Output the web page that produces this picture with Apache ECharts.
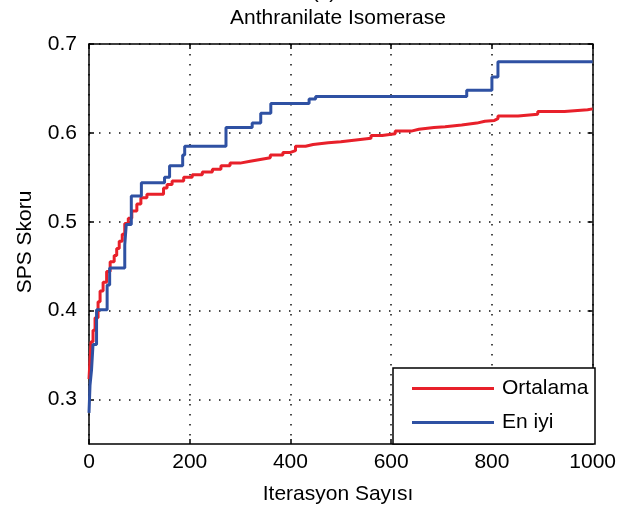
<!DOCTYPE html>
<html>
<head>
<meta charset="utf-8">
<title>Anthranilate Isomerase</title>
<script src="https://cdn.jsdelivr.net/npm/echarts@6/dist/echarts.min.js"></script>
<style>
  html, body { margin: 0; padding: 0; background: #fff; }
  #chart { width: 619px; height: 513px; }
</style>
</head>
<body>
<div id="chart"></div>
<script>
// Mean score per iteration (value holds until the next listed iteration)
const avgIter = [0, 2, 4, 8, 12, 18, 22, 28, 35, 42, 50, 55, 60, 66, 71, 78, 85, 95, 103, 115,
  148, 155, 165, 188, 205, 225, 245, 262, 280, 300, 320, 340, 360, 385, 400, 410, 430, 445,
  475, 500, 530, 560, 582, 608, 640, 655, 685, 707, 740, 770, 786, 805, 812, 852, 891, 944, 990, 1000];
const avgScore = [0.323, 0.345, 0.365, 0.378, 0.392, 0.410, 0.422, 0.432, 0.444, 0.455, 0.462, 0.470, 0.478, 0.486, 0.498, 0.504, 0.512, 0.520, 0.527, 0.531,
  0.538, 0.542, 0.546, 0.550, 0.553, 0.556, 0.559, 0.563, 0.566, 0.568, 0.570, 0.572, 0.575, 0.578, 0.580, 0.585, 0.587, 0.589,
  0.590, 0.592, 0.594, 0.597, 0.599, 0.602, 0.604, 0.606, 0.607, 0.609, 0.611, 0.613, 0.614, 0.616, 0.619, 0.621, 0.624, 0.626, 0.627, 0.627];

// Best score per iteration
const bestIter = [0, 2, 5, 8, 15, 36, 41, 71, 74, 84, 104, 150, 160, 186, 190, 272, 324, 341, 361, 437, 450, 750, 800, 812, 1000];
const bestScore = [0.285, 0.316, 0.333, 0.362, 0.401, 0.429, 0.448, 0.474, 0.497, 0.529, 0.544, 0.550, 0.563, 0.575, 0.585, 0.606, 0.611, 0.622, 0.633, 0.638, 0.641, 0.648, 0.663, 0.680, 0.680];

const xTicks = [0, 200, 400, 600, 800, 1000];
const yTicks = [0.3, 0.4, 0.5, 0.6, 0.7];

const seriesNames = ['Ortalama', 'En iyi'];
const titleText = 'Anthranilate Isomerase';
const xName = 'Iterasyon Sayısı';
const yName = 'SPS Skoru';

const FONT = '"Liberation Sans", Arial, Helvetica, sans-serif';
const FS = 21;
const RED = '#e8202a';
const BLUE = '#2f51a3';

const pairs = (xs, ys) => xs.map((x, i) => [x, ys[i]]);

const dotted = { color: '#111', width: 1.5, type: [1.5, 8.5] };

const chart = echarts.init(document.getElementById('chart'), null, { renderer: 'canvas' });

const baseX = {
  type: 'value', min: xTicks[0], max: xTicks[xTicks.length - 1], interval: 200
};
const baseY = {
  type: 'value', min: 0.25, max: 0.7, scale: true
};

chart.setOption({
  animation: false,
  backgroundColor: '#fff',
  grid: { left: 89, right: 24, top: 44, bottom: 69, containLabel: false },
  xAxis: [
    Object.assign({}, baseX, {
      position: 'bottom',
      axisLine: { show: true, onZero: false, lineStyle: { color: '#000', width: 1.5 } },
      axisTick: { show: true, inside: true, length: 5, lineStyle: { color: '#000', width: 1.5 } },
      axisLabel: { show: true, margin: 8, color: '#000', fontSize: FS, fontFamily: FONT,
        formatter: v => String(v) },
      splitLine: { show: true, lineStyle: dotted }
    }),
    Object.assign({}, baseX, {
      position: 'top',
      axisLine: { show: true, onZero: false, lineStyle: { color: '#000', width: 1.5 } },
      axisTick: { show: true, inside: true, length: 5, lineStyle: { color: '#000', width: 1.5 } },
      axisLabel: { show: false },
      splitLine: { show: false }
    })
  ],
  yAxis: [
    Object.assign({}, baseY, {
      position: 'left',
      axisLine: { show: true, onZero: false, lineStyle: { color: '#000', width: 1.5 } },
      axisTick: { show: true, inside: true, length: 5, customValues: yTicks, lineStyle: { color: '#000', width: 1.5 } },
      axisLabel: { show: true, margin: 12, customValues: yTicks, color: '#000', fontSize: FS, fontFamily: FONT,
        formatter: v => v.toFixed(1) },
      splitLine: { show: true, lineStyle: dotted }
    }),
    Object.assign({}, baseY, {
      position: 'right',
      axisLine: { show: true, onZero: false, lineStyle: { color: '#000', width: 1.5 } },
      axisTick: { show: true, inside: true, length: 5, customValues: yTicks, lineStyle: { color: '#000', width: 1.5 } },
      axisLabel: { show: false },
      splitLine: { show: false }
    })
  ],
  legend: {
    orient: 'vertical',
    left: 407,
    top: 373,
    icon: 'rect',
    itemWidth: 82,
    itemHeight: 3,
    itemGap: 13,
    data: seriesNames,
    textStyle: { color: '#000', fontSize: FS, fontFamily: FONT, lineHeight: 21, padding: [0, 0, 0, 3] },
    z: 10
  },
  graphic: [
    {
      type: 'rect', z: 9,
      shape: { x: 393, y: 368, width: 202, height: 76 },
      style: { fill: '#fff', stroke: '#000', lineWidth: 1.5 }
    },
    {
      type: 'text', x: 338, y: 18.5,
      style: { text: titleText, fill: '#000', font: FS + 'px ' + FONT, align: 'center', verticalAlign: 'middle' }
    },
    {
      type: 'text', x: 324, y: -8,
      style: { text: '(c)', fill: '#000', font: FS + 'px ' + FONT, align: 'center', verticalAlign: 'middle' }
    },
    {
      type: 'text', x: 338, y: 494,
      style: { text: xName, fill: '#000', font: FS + 'px ' + FONT, align: 'center', verticalAlign: 'middle' }
    },
    {
      type: 'text', x: 25, y: 242, rotation: Math.PI / 2,
      style: { text: yName, fill: '#000', font: FS + 'px ' + FONT, align: 'center', verticalAlign: 'middle' }
    }
  ],
  series: [
    {
      name: seriesNames[0], type: 'line', step: 'end', symbol: 'none',
      xAxisIndex: 0, yAxisIndex: 0,
      data: pairs(avgIter, avgScore),
      lineStyle: { color: RED, width: 3 }, itemStyle: { color: RED }
    },
    {
      name: seriesNames[1], type: 'line', step: 'end', symbol: 'none',
      xAxisIndex: 0, yAxisIndex: 0,
      data: pairs(bestIter, bestScore),
      lineStyle: { color: BLUE, width: 3 }, itemStyle: { color: BLUE }
    }
  ]
});
</script>
</body>
</html>
